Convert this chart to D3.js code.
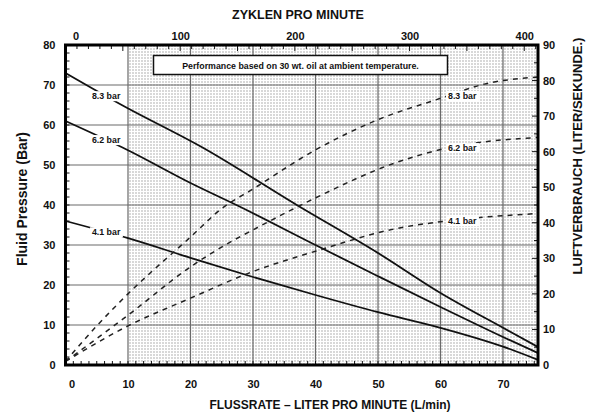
<!DOCTYPE html>
<html>
<head>
  <meta charset="utf-8">
  <script src="https://d3js.org/d3.v7.min.js"></script>
  <style>
  body { margin:0; background:#fff; }
  text { font-family: "Liberation Sans", Arial, sans-serif; font-weight: bold; fill: #111; }
  .tick text { font-size: 11px; }
  .grid { stroke: #6a6a6a; stroke-width: 1.2; }
  .press { fill: none; stroke: #111; stroke-width: 1.8; }
  .air { fill: none; stroke: #222; stroke-width: 1.5; stroke-dasharray: 5,5; }
  .lbl { font-size: 8.8px; }
</style>
</head>
<body>
<script>

  // tick values
  var flowTicks = [0, 10, 20, 30, 40, 50, 60, 70];
  var pressTicks = [0, 10, 20, 30, 40, 50, 60, 70, 80];
  var airTicks = [0, 10, 20, 30, 40, 50, 60, 70, 80, 90];
  var cycleTicks = [0, 100, 200, 300, 400];

  // fluid pressure (bar) vs flow (L/min)
  var press83 = [[0,73],[9,65],[22,54.3],[37,40],[50,28],[60,18],[70,9.3],[75.6,4.5]];
  var press62 = [[0,61],[10,53.7],[20,45.5],[28,39.5],[40,30],[50,22.2],[60,14.5],[70,7],[75.6,3]];
  var press41 = [[0,36],[10,31.7],[20,26.8],[30,22],[40,17.5],[50,13.2],[60,9.3],[70,4.6],[75.6,1.3]];

  // air consumption (l/s) vs flow (L/min)
  var air83 = [[0,1],[5,11],[10,20],[20,36],[25,44],[30,49.5],[40,60.5],[50,69],[60,75],[67,79],[75.6,81]];
  var air62 = [[0,1],[10,14],[20,27.6],[26.8,35],[30,38],[40,47],[53,57],[61,61],[75.6,64]];
  var air41 = [[0,1],[10,11],[20,18.8],[30,26.3],[40,32],[53,38.4],[60,40.3],[75.6,42.6]];

  var seriesNames = ["8.3 bar", "6.2 bar", "4.1 bar"];

  var W = 592, H = 413;
  var margin = {top: 45, right: 54, bottom: 48, left: 65.5};

  var svg = d3.select("body").append("svg")
    .attr("width", W)
    .attr("height", H);

  var x = d3.scaleLinear().domain([0, 75.6]).range([margin.left, W - margin.right]);
  var xTop = d3.scaleLinear().domain([0, 412]).range([margin.left, W - margin.right]);
  var yL = d3.scaleLinear().domain([0, 80]).range([H - margin.bottom, margin.top]);
  var yR = d3.scaleLinear().domain([0, 90]).range([H - margin.bottom, margin.top]);

  var x0 = x.range()[0], x1 = x.range()[1], y0 = yL.range()[0], y1 = yL.range()[1];

  // stipple pattern
  var pat = svg.append("defs").append("pattern")
    .attr("id", "dots")
    .attr("patternUnits", "userSpaceOnUse")
    .attr("width", 3).attr("height", 3);
  pat.append("rect").attr("width", 3).attr("height", 3).attr("fill", "#fff");
  pat.append("rect").attr("width", 2).attr("height", 2).attr("fill", "#d8d8d8");

  svg.append("rect")
    .attr("x", x(10)).attr("y", y1)
    .attr("width", x1 - x(10)).attr("height", y0 - y1)
    .attr("fill", "url(#dots)");

  // grid
  svg.selectAll(".vgrid")
    .data(flowTicks.filter(d => d > 0))
    .enter().append("line")
    .attr("class", "grid")
    .attr("x1", d => x(d)).attr("x2", d => x(d))
    .attr("y1", y1).attr("y2", y0);

  svg.selectAll(".hgrid")
    .data(pressTicks.filter(d => d > 0 && d < 80))
    .enter().append("line")
    .attr("class", "grid")
    .attr("x1", x0).attr("x2", x1)
    .attr("y1", d => yL(d)).attr("y2", d => yL(d));

  // curves
  var lineL = d3.line().x(d => x(d[0])).y(d => yL(d[1])).curve(d3.curveMonotoneX);
  var lineR = d3.line().x(d => x(d[0])).y(d => yR(d[1])).curve(d3.curveMonotoneX);

  var pressSeries = [press83, press62, press41];
  var airSeries = [air83, air62, air41];

  svg.selectAll(".press")
    .data(pressSeries)
    .enter().append("path")
    .attr("class", "press")
    .attr("d", lineL);

  svg.selectAll(".air")
    .data(airSeries)
    .enter().append("path")
    .attr("class", "air")
    .attr("d", lineR);

  function valueAt(s, f) {
    return d3.scaleLinear().domain(s.map(d => d[0])).range(s.map(d => d[1]))(f);
  }

  function label(px, py, txt, anchor) {
    var g = svg.append("g");
    var bg = g.append("rect").attr("fill", "#fff");
    var t = g.append("text")
      .attr("class", "lbl")
      .attr("x", px).attr("y", py)
      .attr("dy", "0.35em")
      .attr("text-anchor", anchor)
      .text(txt);
    var b = t.node().getBBox();
    bg.attr("x", b.x - 2).attr("y", b.y).attr("width", b.width + 4).attr("height", b.height);
  }

  pressSeries.forEach((s, i) => {
    label(x(6.5), yL(valueAt(s, 6.5)), seriesNames[i], "middle");
  });
  airSeries.forEach((s, i) => {
    label(x(61.2), yR(valueAt(s, 61.2)), seriesNames[i], "start");
  });

  // note box
  var note = svg.append("g");
  note.append("rect")
    .attr("x", 153.5).attr("y", 55.5)
    .attr("width", 294).attr("height", 19)
    .attr("fill", "#fff").attr("stroke", "#111").attr("stroke-width", 1.5);
  note.append("text")
    .attr("x", 300.5).attr("y", 68.5)
    .attr("text-anchor", "middle")
    .style("font-size", "8.8px")
    .text("Performance based on 30 wt. oil at ambient temperature.");

  // minor ticks (inside)
  svg.selectAll(".mtl")
    .data(d3.range(0, 80.01, 2))
    .enter().append("line")
    .attr("stroke", "#111").attr("stroke-width", 1)
    .attr("x1", x0).attr("x2", x0 + 4)
    .attr("y1", d => yL(d)).attr("y2", d => yL(d));

  svg.selectAll(".mtr")
    .data(d3.range(0, 90.01, 5))
    .enter().append("line")
    .attr("stroke", "#111").attr("stroke-width", 1)
    .attr("x1", x1).attr("x2", d => x1 - (d % 10 === 0 ? 6 : 4))
    .attr("y1", d => yR(d)).attr("y2", d => yR(d));

  svg.selectAll(".mtb")
    .data(d3.range(0, 75.6, 1.25))
    .enter().append("line")
    .attr("stroke", "#111").attr("stroke-width", 1)
    .attr("x1", d => x(d)).attr("x2", d => x(d))
    .attr("y1", y0).attr("y2", y0 - 4);

  svg.selectAll(".mtt")
    .data(d3.range(0, 412, 10))
    .enter().append("line")
    .attr("stroke", "#111").attr("stroke-width", 1)
    .attr("x1", d => xTop(d)).attr("x2", d => xTop(d))
    .attr("y1", y1).attr("y2", d => y1 + (d % 50 === 0 ? 6 : 4));

  // axes (labels only)
  var axB = svg.append("g")
    .attr("transform", "translate(0," + y0 + ")")
    .call(d3.axisBottom(x).tickValues(flowTicks).tickSize(0).tickPadding(15));
  var axT = svg.append("g")
    .attr("transform", "translate(0," + y1 + ")")
    .call(d3.axisTop(xTop).tickValues(cycleTicks).tickSize(0).tickPadding(5));
  var axL = svg.append("g")
    .attr("transform", "translate(" + x0 + ",0)")
    .call(d3.axisLeft(yL).tickValues(pressTicks).tickSize(0).tickPadding(10));
  var axR = svg.append("g")
    .attr("transform", "translate(" + x1 + ",0)")
    .call(d3.axisRight(yR).tickValues(airTicks).tickSize(0).tickPadding(5));

  [axB, axT, axL, axR].forEach(a => {
    a.select(".domain").remove();
    a.selectAll("text").style("font-family", '"Liberation Sans", Arial, sans-serif').style("font-weight", "bold").attr("fill", "#111");
  });
  axB.selectAll(".tick text").filter(d => d === 0).attr("dx", "6");
  axT.selectAll(".tick text").filter(d => d === 0).attr("dx", "10");

  // frame
  svg.append("rect")
    .attr("x", x0).attr("y", y1)
    .attr("width", x1 - x0).attr("height", y0 - y1)
    .attr("fill", "none").attr("stroke", "#000").attr("stroke-width", 3);

  // titles
  svg.append("text")
    .attr("x", 298).attr("y", 19)
    .attr("text-anchor", "middle")
    .style("font-size", "12.5px")
    .text("ZYKLEN PRO MINUTE");

  svg.append("text")
    .attr("x", 330).attr("y", 409)
    .attr("text-anchor", "middle")
    .style("font-size", "12px")
    .text("FLUSSRATE \u2013 LITER PRO MINUTE (L/min)");

  svg.append("text")
    .attr("transform", "translate(27,199) rotate(-90)")
    .attr("text-anchor", "middle")
    .style("font-size", "14px")
    .text("Fluid Pressure (Bar)");

  svg.append("text")
    .attr("transform", "translate(582,156) rotate(-90)")
    .attr("text-anchor", "middle")
    .style("font-size", "13px")
    .text("LUFTVERBRAUCH (LITER/SEKUNDE.)");

</script>
</body>
</html>
